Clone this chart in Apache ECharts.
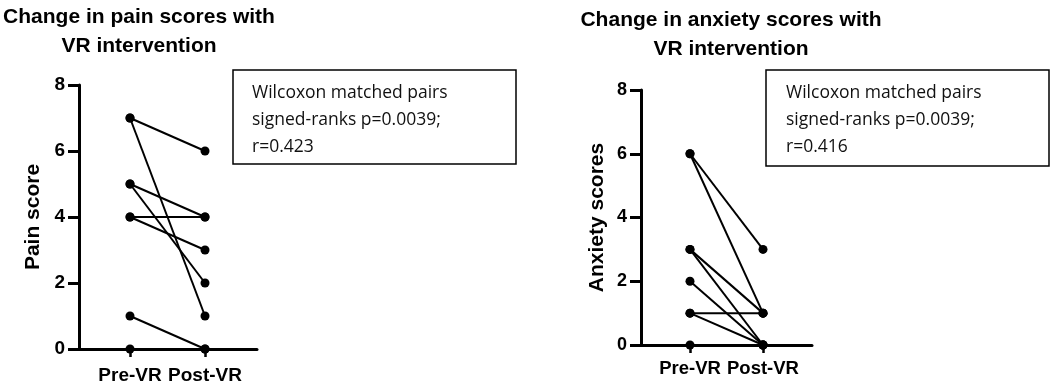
<!DOCTYPE html>
<html>
<head>
<meta charset="utf-8">
<script src="https://cdn.jsdelivr.net/npm/echarts@6/dist/echarts.min.js"></script>
<style>html,body{margin:0;padding:0;background:#fff;}#c{width:1052px;height:386px;}</style>
</head>
<body>
<div id="c"></div>
<script>
const categories = ['Pre-VR', 'Post-VR'];
const painPre  = [7, 7, 5, 5, 4, 4, 1, 0];
const painPost = [6, 1, 4, 2, 4, 3, 0, 0];
const anxPre   = [6, 6, 3, 3, 2, 1, 1, 0];
const anxPost  = [3, 1, 1, 0, 0, 1, 0, 0];
const painStats = ['Wilcoxon matched pairs', 'signed-ranks p=0.0039;', 'r=0.423'];
const anxStats  = ['Wilcoxon matched pairs', 'signed-ranks p=0.0039;', 'r=0.416'];

const F = 'Liberation Sans, Arial, sans-serif';
const chart = echarts.init(document.getElementById('c'), null, {renderer: 'canvas'});

function xAx(gi, min, max, margin, fs) {
  return {
    gridIndex: gi, type: 'value', min: min, max: max,
    splitLine: {show: false},
    axisLine: {show: true, onZero: false, lineStyle: {color: '#000', width: 3}},
    axisTick: {show: true, customValues: [0, 1], length: 8, lineStyle: {color: '#000', width: 2.5}},
    axisLabel: {customValues: [0, 1], margin: margin, color: '#000', fontFamily: F, fontWeight: 'bold', fontSize: fs,
      formatter: v => categories[Math.round(v)] || ''}
  };
}
function yAx(gi, name, gap, fs) {
  return {
    gridIndex: gi, type: 'value', min: 0, max: 8, interval: 2,
    name: name, nameLocation: 'middle', nameGap: gap,
    nameTextStyle: {color: '#000', fontFamily: F, fontWeight: 'bold', fontSize: 21},
    splitLine: {show: false},
    axisLine: {show: true, onZero: false, lineStyle: {color: '#000', width: 3}},
    axisTick: {show: true, length: 11, lineStyle: {color: '#000', width: 3}},
    axisLabel: {margin: 14, color: '#000', fontFamily: F, fontWeight: 'bold', fontSize: fs}
  };
}
const series = [];
function addPairs(pre, post, gi) {
  for (let i = 0; i < pre.length; i++) {
    series.push({
      type: 'line', xAxisIndex: gi, yAxisIndex: gi,
      data: [[0, pre[i]], [1, post[i]]],
      symbol: 'circle', symbolSize: 9, showSymbol: true,
      lineStyle: {color: '#000', width: 2},
      itemStyle: {color: '#000'},
      silent: true, animation: false, z: 5
    });
  }
}
addPairs(painPre, painPost, 0);
addPairs(anxPre, anxPost, 1);

function box(x, y, w, h, lines, tx) {
  return [
    {type: 'rect', shape: {x: x, y: y, width: w, height: h},
     style: {fill: '#fff', stroke: '#000', lineWidth: 1.5}, z: 10},
    {type: 'text', x: tx, y: y + 10, z: 11,
     style: {text: lines.join('\n'), fill: '#111', font: '17.5px "Open Sans", sans-serif', lineHeight: 27}}
  ];
}
function title(x, y, txt) {
  return {type: 'text', x: x, y: y, z: 11,
    style: {text: txt, fill: '#000', font: 'bold 21px "Liberation Sans", Arial, sans-serif',
      textAlign: 'center', lineHeight: 29}};
}

chart.setOption({
  animation: false,
  grid: [
    {left: 79, top: 85, width: 178, height: 264},
    {left: 641, top: 90, width: 171, height: 255}
  ],
  xAxis: [xAx(0, -0.68, 1.693, 17, 19), xAx(1, -0.671, 1.671, 14, 18.5)],
  yAxis: [yAx(0, 'Pain score', 35, 19), yAx(1, 'Anxiety scores', 33, 18)],
  series: series,
  graphic: [
    title(139, 3, 'Change in pain scores with\nVR intervention'),
    title(731, 6, 'Change in anxiety scores with\nVR intervention'),
    ...box(233, 70, 283, 94, painStats, 252),
    ...box(766, 70, 283, 96, anxStats, 786)
  ]
});
</script>
</body>
</html>
